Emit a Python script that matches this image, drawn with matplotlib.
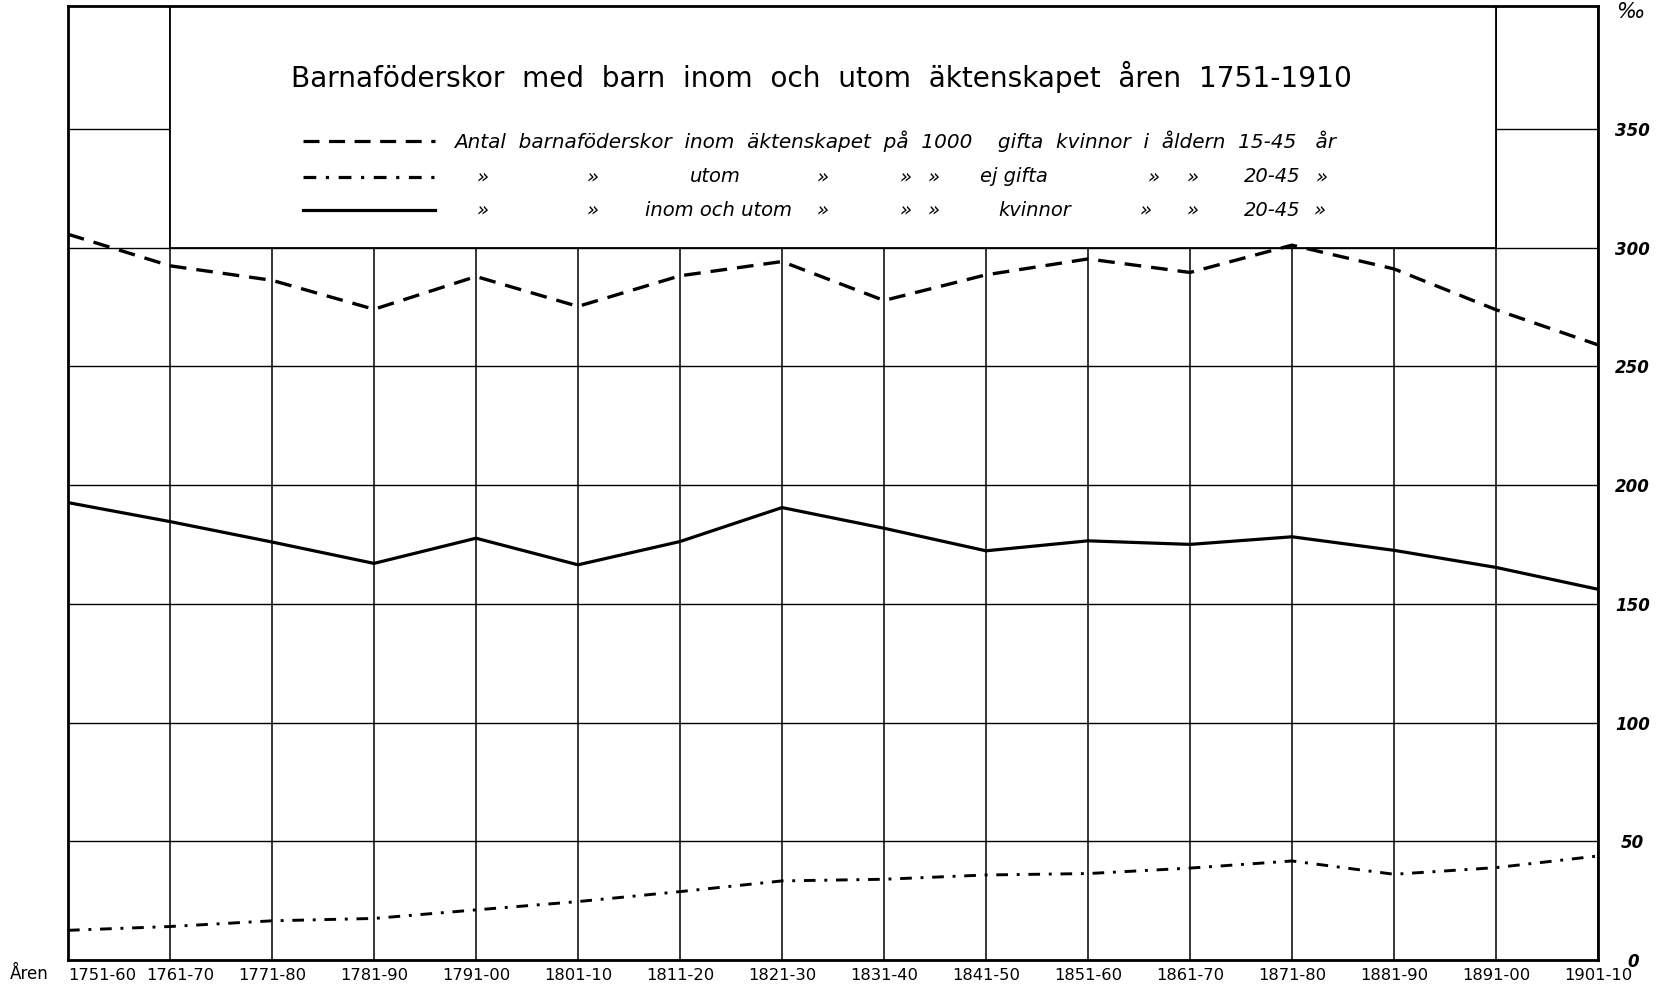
import matplotlib
matplotlib.use('Agg')
import matplotlib.pyplot as plt
import matplotlib.transforms as mtransforms
from matplotlib.lines import Line2D
from matplotlib.patches import Rectangle

# periods on the x axis
periods = ["1751-60", "1761-70", "1771-80", "1781-90", "1791-00", "1801-10",
           "1811-20", "1821-30", "1831-40", "1841-50", "1851-60", "1861-70",
           "1871-80", "1881-90", "1891-00", "1901-10"]

# per mille values
inom = [305.6, 292.3, 286.2, 274.0, 287.8, 275.2, 288.1, 294.1,
        277.7, 288.5, 295.2, 289.5, 301.0, 291.0, 273.8, 259.0]
utom = [12.5, 14.1, 16.5, 17.5, 21.1, 24.6, 28.8, 33.3,
        34.0, 35.8, 36.4, 38.7, 41.7, 36.1, 38.9, 43.8]
inom_och_utom = [192.6, 184.6, 176.0, 167.0, 177.6, 166.4, 176.2, 190.5,
                 181.8, 172.3, 176.5, 175.0, 178.2, 172.5, 165.3, 156.1]
yticks = [0, 50, 100, 150, 200, 250, 300, 350]

W, H = 1665, 991
fig = plt.figure(figsize=(W / 100, H / 100), dpi=100)
ax = fig.add_axes([68 / W, 31 / H, (1598 - 68) / W, (960 - 6) / H])

x = list(range(len(periods)))
ax.set_xlim(0, len(periods) - 1)
ax.set_ylim(0, 401.7)

# grid
for xi in x:
    ax.axvline(xi, color="black", lw=1.1, zorder=1)
for yv in yticks:
    ax.axhline(yv, color="black", lw=1.0, zorder=1)

# title / legend box sits on top of the grid
ax.add_patch(Rectangle((1, 300), len(periods) - 3, 110, facecolor="white",
                       edgecolor="black", lw=1.3, zorder=2, clip_on=True))

ax.plot(x, inom, color="black", lw=2.4, dashes=(5, 3), zorder=3)
ax.plot(x, utom, color="black", lw=2.1, dashes=(4, 3, 1, 3), zorder=3)
ax.plot(x, inom_och_utom, color="black", lw=2.3, zorder=3)

for side in ["left", "right", "bottom", "top"]:
    ax.spines[side].set_linewidth(2.0)

ax.set_xticks(x)
ax.set_xticklabels(periods, family=["Liberation Sans Narrow", "DejaVu Sans"],
                   fontsize=11.8, fontweight="medium")
ax.set_yticks(yticks)
ax.set_yticklabels([str(v) for v in yticks], fontstyle="italic",
                   fontweight="bold", fontsize=12, ha="center")
ax.yaxis.tick_right()
ax.tick_params(axis="both", length=0)
ax.tick_params(axis="y", pad=25)
ax.tick_params(axis="x", pad=6)

# the first two period labels sit a little to the right, as in the original
xlabels = ax.get_xticklabels()
xlabels[0].set_horizontalalignment("left")
xlabels[1].set_transform(xlabels[1].get_transform() +
                         mtransforms.ScaledTranslation(0.10, 0, fig.dpi_scale_trans))


def fx(px):
    return px / W


def fy(py):
    return 1 - py / H


fig.text(fx(10), fy(974), "Åren", fontsize=12, va="center", ha="left",
         family=["Liberation Sans Narrow", "DejaVu Sans"])
fig.text(fx(1630), fy(12), "‰", fontsize=15, fontstyle="italic", ha="center",
         va="center")

fig.text(fx(821), fy(77), "Barnaföderskor  med  barn  inom  och  utom  äktenskapet  åren  1751-1910",
         fontsize=20.2, ha="center", va="center")

# legend keys
rows_y = [141, 177, 210]
styles = [dict(dashes=(5, 3)), dict(dashes=(4, 3, 1, 3)), dict()]
for ry, st in zip(rows_y, styles):
    fig.add_artist(Line2D([fx(303), fx(435)], [fy(ry), fy(ry)], color="black",
                          lw=2.3, **st))

tfont = dict(fontsize=14, fontstyle="italic", va="center")
fig.text(fx(454), fy(141),
         "Antal  barnaföderskor  inom  äktenskapet  på  1000    gifta  kvinnor  i  åldern  15-45   år",
         ha="left", fontsize=14.4, fontstyle="italic", va="center")

row2 = [(483, "»"), (593, "»"), (715, "utom"), (823, "»"), (906, "»"),
        (934, "»"), (1014, "ej gifta"), (1154, "»"), (1193, "»"),
        (1272, "20-45"), (1322, "»")]
row3 = [(483, "»"), (593, "»"), (719, "inom och utom"), (823, "»"), (906, "»"),
        (934, "»"), (1035, "kvinnor"), (1146, "»"), (1193, "»"),
        (1272, "20-45"), (1320, "»")]
for px, s in row2:
    fig.text(fx(px), fy(177), s, ha="center", **tfont)
for px, s in row3:
    fig.text(fx(px), fy(210), s, ha="center", **tfont)

fig.savefig("out.png", dpi=100)
